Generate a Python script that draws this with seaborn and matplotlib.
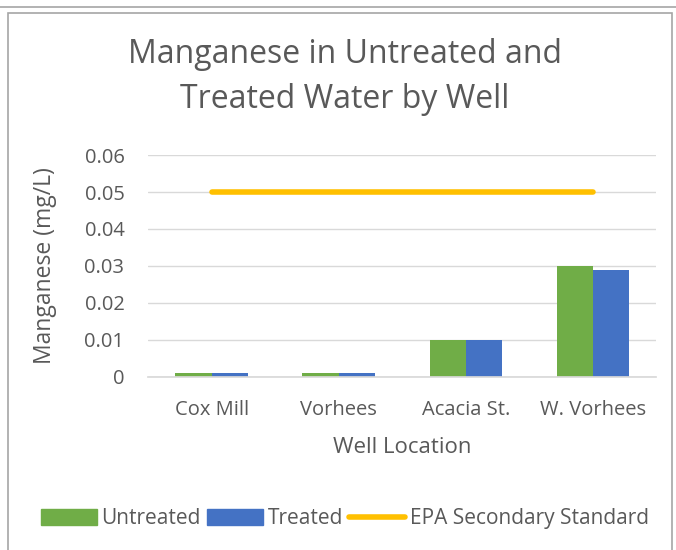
#!/usr/bin/env python
# coding: utf-8

"""
Manganese in untreated and treated water, by well
"""

import numpy as np
import pandas as pd
import seaborn as sns
import matplotlib.pyplot as plt
from matplotlib.patches import Rectangle
from matplotlib.lines import Line2D

# données
wells = ["Cox Mill", "Vorhees", "Acacia St.", "W. Vorhees"]
untreated = [0.001, 0.001, 0.01, 0.03]
treated = [0.001, 0.001, 0.01, 0.029]
epa_standard = [0.05, 0.05, 0.05, 0.05]
yticks = [0, 0.01, 0.02, 0.03, 0.04, 0.05, 0.06]
ytick_labels = ["0", "0.01", "0.02", "0.03", "0.04", "0.05", "0.06"]

GREEN = "#70AD47"
BLUE = "#4472C4"
GOLD = "#FFC000"
TEXT = "#595959"

sns.set_theme(style="white")
plt.rcParams["font.family"] = ["Open Sans", "DejaVu Sans"]

df = pd.DataFrame({
    "Well": wells * 2,
    "Manganese": untreated + treated,
    "Series": ["Untreated"] * len(wells) + ["Treated"] * len(wells),
})

fig = plt.figure(figsize=(6.76, 5.5), dpi=100)
ax = fig.add_axes([0.219, 0.315, 0.752, 0.403])

sns.barplot(data=df, x="Well", y="Manganese", hue="Series", order=wells,
            hue_order=["Untreated", "Treated"],
            palette=[GREEN, BLUE], width=0.57, saturation=1, linewidth=0,
            errorbar=None, legend=False, ax=ax)

# ligne EPA, du centre de la première catégorie au centre de la dernière
ax.plot(np.arange(len(wells)), epa_standard, color=GOLD, lw=4,
        solid_capstyle="round", zorder=5)

ax.set_ylim(0, 0.06)
ax.set_xlim(-0.5, len(wells) - 0.5)
ax.set_yticks(yticks)
ax.set_yticklabels(ytick_labels)
ax.yaxis.grid(True, color="#D9D9D9", lw=1)
ax.set_axisbelow(True)
for side in ["top", "right", "left"]:
    ax.spines[side].set_visible(False)
ax.spines["bottom"].set_color("#D9D9D9")
ax.tick_params(axis="both", colors=TEXT, labelsize=14.5, length=0)
ax.tick_params(axis="y", pad=17)
ax.tick_params(axis="x", pad=17)

ax.set_xlabel("Well Location", color=TEXT, fontsize=16, labelpad=12)
ax.set_ylabel("Manganese (mg/L)", color=TEXT, fontsize=16.5, labelpad=20)

fig.text(0.51, 0.86, "Manganese in Untreated and\nTreated Water by Well",
         ha="center", va="center", fontsize=23, color=TEXT, linespacing=1.5)

# légende
handles = [
    Rectangle((0, 0), 1, 1, color=GREEN),
    Rectangle((0, 0), 1, 1, color=BLUE),
    Line2D([0], [0], color=GOLD, lw=4, solid_capstyle="round"),
]
fig.legend(handles, ["Untreated", "Treated", "EPA Secondary Standard"],
           loc="center", bbox_to_anchor=(0.51, 0.057), ncol=3, frameon=False,
           fontsize=15, labelcolor=TEXT, handlelength=2.7, handleheight=0.8,
           handletextpad=0.2, columnspacing=0.3)

# cadre du graphique
fig.add_artist(Line2D([0, 1], [1 - 7 / 550, 1 - 7 / 550], color="#A6A6A6", lw=1.2))
fig.add_artist(Rectangle((8 / 676, -0.05), 664 / 676, 1.05 - 13 / 550,
                         fill=False, edgecolor="#A6A6A6", lw=1.2))

fig.savefig("out.png", dpi=100)
